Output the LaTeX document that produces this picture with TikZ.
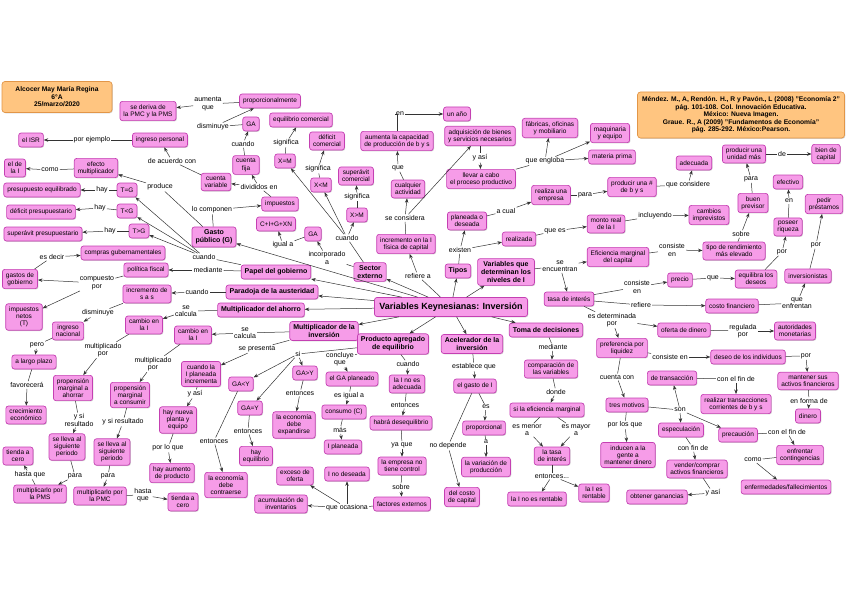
\documentclass[tikz,border=0pt]{standalone}
\usepackage{fontspec}
\setmainfont{Liberation Sans}
\usetikzlibrary{arrows.meta, shadows}

\definecolor{boxfill}{RGB}{246,156,232}
\definecolor{boxline}{RGB}{196,64,178}
\definecolor{reffill}{RGB}{255,197,128}
\definecolor{refline}{RGB}{226,150,72}

\begin{document}
\begin{tikzpicture}[
    x=1pt, y=-1pt,
    >={Stealth[length=4.5pt,width=3.5pt]},
    concept/.style={draw=boxline, fill=boxfill, rounded corners=2.5pt, line width=0.7pt, align=center,
        inner xsep=3.5pt, inner ysep=3pt, minimum height=14pt, font=\fontsize{6.5}{7.2}\selectfont,
        drop shadow={shadow xshift=0.8pt, shadow yshift=-0.8pt, opacity=0.35}},
    keyconcept/.style={concept, font=\bfseries\fontsize{7}{7.8}\selectfont},
    refbox/.style={draw=refline, fill=reffill, rounded corners=3pt, line width=0.7pt, align=center,
        inner sep=4pt, font=\bfseries\fontsize{6.7}{7.6}\selectfont,
        drop shadow={shadow xshift=0.8pt, shadow yshift=-0.8pt, opacity=0.35}},
    phrase/.style={align=center, inner sep=1pt, font=\fontsize{7}{7.5}\selectfont},
    conn/.style={draw=black!80, line width=0.5pt}
]
\useasboundingbox (0,0) rectangle (848,599);

\node[refbox, minimum width=110pt, minimum height=31pt] (hdr) at (57,97) {Alcocer May María Regina\\6°A\\25/marzo/2020};
\node[refbox, minimum width=207pt, minimum height=46pt] (bib) at (741,115) {Méndez. M., A, Rendón. H., R y Pavón., L (2008) "Economía 2"\\pág. 101-108. Col. Innovación Educativa.\\México: Nueva Imagen.\\Graue. R., A (2009) "Fundamentos de Economía"\\pág. 285-292. México:Pearson.};

\node[keyconcept, font=\bfseries\fontsize{9}{10}\selectfont, minimum width=153pt, minimum height=19pt] (varkey) at (451,307) {Variables Keynesianas: Inversión};
\node[keyconcept] (gasto) at (214,237) {Gasto\\público (G)};
\node[keyconcept] (papel) at (276,272) {Papel del gobierno};
\node[keyconcept] (paradoja) at (272,292) {Paradoja de la austeridad};
\node[keyconcept] (multah) at (261,310) {Multiplicador del ahorro};
\node[keyconcept] (multinv) at (324,331) {Multiplicador de la\\inversión};
\node[keyconcept] (prodag) at (393,344) {Producto agregado\\de equilibrio};
\node[keyconcept] (acel) at (472,344) {Acelerador de la\\inversión};
\node[keyconcept] (toma) at (546,330) {Toma de decisiones};
\node[keyconcept] (tipos) at (458,271) {Tipos};
\node[keyconcept] (varnivel) at (506,272) {Variables que\\determinan los\\niveles de I};
\node[keyconcept] (sector) at (370,272) {Sector\\externo};

\node[concept] (deriva) at (148,111) {se deriva de\\la PMC y la PMS};
\node[concept] (proporc) at (270,101) {proporcionalmente};
\node[concept] (ga1) at (251,124) {GA};
\node[concept] (cfija) at (246,165) {cuenta\\fija};
\node[concept] (cvar) at (216,182) {cuenta\\variable};
\node[concept] (ingper) at (160,140) {ingreso personal};
\node[concept] (isr) at (31,140) {el ISR};
\node[concept] (efmult) at (96,168) {efecto\\multiplicador};
\node[concept] (dela) at (15,168) {el de\\la I};
\node[concept] (presequil) at (42,190) {presupuesto equilibrado};
\node[concept] (teg) at (127,190) {T=G};
\node[concept] (deficitp) at (41,212) {déficit presupuestario};
\node[concept] (tlg) at (127,211) {T<G};
\node[concept] (superp) at (43,234) {superávit presupuestario};
\node[concept] (tgg) at (139,231) {T>G};
\node[concept] (compras) at (123,253) {compras gubernamentales};
\node[concept] (polfis) at (146,270) {política fiscal};
\node[concept] (gastgob) at (20,279) {gastos de\\gobierno};
\node[concept] (impnet) at (24,317) {impuestos\\netos\\(T)};
\node[concept] (incrs) at (147,294) {incremento de\\s a s};
\node[concept] (ingnac) at (68,331) {ingreso\\nacional};
\node[concept] (cambio1) at (144,325) {cambio en\\la I};
\node[concept] (cambio2) at (193,335) {cambio en\\la I};
\node[concept] (largo) at (34,362) {a largo plazo};
\node[concept] (crec) at (26,415) {crecimiento\\económico};
\node[concept] (pmga) at (73,388) {propensión\\marginal a\\ahorrar};
\node[concept] (pmgc) at (130,395) {propensión\\marginal\\a consumir};
\node[concept] (lleva1) at (67,447) {se lleva al\\siguiente\\periodo};
\node[concept] (lleva2) at (112,452) {se lleva al\\siguiente\\periodo};
\node[concept] (cero1) at (18,456) {tienda a\\cero};
\node[concept] (multpms) at (40,494) {multiplicarlo por\\la PMS};
\node[concept] (multpmc) at (100,496) {multiplicarlo por\\la PMC};
\node[concept] (cero2) at (183,502) {tienda a\\cero};
\node[concept] (nueva) at (178,420) {hay nueva\\planta y\\equipo};
\node[concept] (aumprod) at (172,473) {hay aumento\\de producto};
\node[concept] (iplan) at (201,374) {cuando la\\I planeada\\incrementa};
\node[concept] (galy) at (241,384) {GA<Y};
\node[concept] (gaeq) at (250,408) {GA=Y};
\node[concept] (equil) at (256,456) {hay\\equilibrio};
\node[concept] (contraer) at (226,485) {la economía\\debe\\contraerse};
\node[concept] (gamy) at (305,373) {GA>Y};
\node[concept] (expandir) at (294,425) {la economía\\debe\\expandirse};
\node[concept] (gaplan) at (352,379) {el GA planeado};
\node[concept] (consumo) at (344,412) {consumo (C)};
\node[concept] (iplaneada) at (343,447) {I planeada};
\node[concept] (ideseada) at (347,474) {I no deseada};
\node[concept] (exceso) at (295,476) {exceso de\\oferta};
\node[concept] (acum) at (281,504) {acumulación de\\inventarios};
\node[concept] (factores) at (402,504) {factores externos};
\node[concept] (empresa) at (402,466) {la empresa no\\tiene control};
\node[concept] (deseq) at (401,423) {habrá desequilibrio};
\node[concept] (noadec) at (407,384) {la I no es\\adecuada};
\node[concept] (gastoi) at (475,386) {el gasto de I};
\node[concept] (proporcional) at (484,428) {proporcional};
\node[concept] (variacion) at (486,467) {la variación de\\producción};
\node[concept] (costo) at (462,497) {del costo\\de capital};
\node[concept] (compar) at (551,369) {comparación de\\las variables};
\node[concept] (efmarg) at (547,410) {si la eficiencia marginal};
\node[concept] (tasa2) at (552,456) {la tasa\\de interés};
\node[concept] (norent) at (537,499) {la I no es rentable};
\node[concept] (rent) at (594,493) {la I es\\rentable};

\node[concept] (eqcom) at (301,120) {equilibrio comercial};
\node[concept] (xm) at (285,161) {X=M};
\node[concept] (defcom) at (327,141) {déficit\\comercial};
\node[concept] (xlm) at (321,185) {X<M};
\node[concept] (supcom) at (356,176) {superávit\\comercial};
\node[concept] (xgm) at (357,215) {X>M};
\node[concept] (impuestos) at (280,204) {impuestos};
\node[concept] (cigxn) at (276,224) {C+I+G+XN};
\node[concept] (ga2) at (313,234) {GA};
\node[concept] (aumcap) at (397,141) {aumenta la capacidad\\de producción de b y s};
\node[concept] (unano) at (457,114) {un año};
\node[concept] (cualq) at (408,189) {cualquier\\actividad};
\node[concept] (incfis) at (406,244) {incremento en la I\\física de capital};
\node[concept] (adquis) at (480,136) {adquisición de bienes\\y servicios necesarios};
\node[concept] (llevar) at (481,179) {llevar a cabo\\el proceso productivo};
\node[concept] (fabricas) at (550,128) {fábricas, oficinas\\y mobiliario};
\node[concept] (maqui) at (610,133) {maquinaria\\y equipo};
\node[concept] (materia) at (612,157) {materia prima};
\node[concept] (planeada) at (467,221) {planeada o\\deseada};
\node[concept] (realizada) at (519,239) {realizada};
\node[concept] (montoreal) at (606,224) {monto real\\de la I};
\node[concept] (realiza) at (551,195) {realiza una\\empresa};
\node[concept] (producir) at (632,187) {producir una \#\\de b y s};
\node[concept] (adecuada) at (694,163) {adecuada};
\node[concept] (unidad) at (744,154) {producir una\\unidad más};
\node[concept] (bienk) at (826,154) {bien de\\capital};
\node[concept] (previsor) at (753,203) {buen\\previsor};
\node[concept] (efectivo) at (788,182) {efectivo};
\node[concept] (riqueza) at (788,227) {poseer\\riqueza};
\node[concept] (prestamos) at (824,204) {pedir\\préstamos};
\node[concept] (imprev) at (709,215) {cambios\\imprevistos};
\node[concept] (rendim) at (734,251) {tipo de rendimiento\\más elevado};
\node[concept] (emc) at (618,257) {Eficiencia marginal\\del capital};
\node[concept] (tasa) at (569,299) {tasa de interés};
\node[concept] (precio) at (680,280) {precio};
\node[concept] (deseos) at (756,279) {equilibra los\\deseos};
\node[concept] (inversion) at (808,276) {inversionistas};
\node[concept] (costofin) at (732,306) {costo financiero};
\node[concept] (oferta) at (684,330) {oferta de dinero};
\node[concept] (autor) at (795,331) {autoridades\\monetarias};
\node[concept] (liquidez) at (622,348) {preferencia por\\liquidez};
\node[concept] (deseo) at (748,357) {deseo de los individuos};
\node[concept] (mantener) at (808,381) {mantener sus\\activos financieros};
\node[concept] (dinero) at (808,416) {dinero};
\node[concept] (transac) at (672,378) {de transacción};
\node[concept] (realizar) at (736,404) {realizar transacciones\\corrientes de b y s};
\node[concept] (motivos) at (627,405) {tres motivos};
\node[concept] (inducen) at (628,455) {inducen a la\\gente a\\mantener dinero};
\node[concept] (especul) at (681,430) {especulación};
\node[concept] (precau) at (738,435) {precaución};
\node[concept] (conting) at (800,455) {enfrentar\\contingencias};
\node[concept] (enferm) at (786,487) {enfermedades/fallecimientos};
\node[concept] (vender) at (697,469) {vender/comprar\\activos financieros};
\node[concept] (ganancias) at (657,497) {obtener ganancias};

\node[phrase] (l_aumque) at (208,104) {aumenta\\que};
\node[phrase] (l_dism) at (213,127) {disminuye};
\node[phrase] (l_cuando1) at (243,144) {cuando};
\node[phrase] (l_divid) at (259,187) {divididos en};
\node[phrase] (l_compon) at (212,210) {lo componen};
\node[phrase] (l_acuerdo) at (172,161) {de acuerdo con};
\node[phrase] (l_ejemplo) at (92,140) {por ejemplo};
\node[phrase] (l_como1) at (50,170) {como};
\node[phrase] (l_produce) at (160,187) {produce};
\node[phrase] (l_hay1) at (102,190) {hay};
\node[phrase] (l_hay2) at (100,208) {hay};
\node[phrase] (l_hay3) at (110,231) {hay};
\node[phrase] (l_cuando2) at (204,257) {cuando};
\node[phrase] (l_mediante1) at (208,270) {mediante};
\node[phrase] (l_cuando3) at (197,292) {cuando};
\node[phrase] (l_esdecir) at (52,257) {es decir};
\node[phrase] (l_compuesto) at (97,283) {compuesto\\por};
\node[phrase] (l_dismin2) at (98,313) {disminuye};
\node[phrase] (l_secalc1) at (186,311) {se\\calcula};
\node[phrase] (l_secalc2) at (245,333) {se\\calcula};
\node[phrase] (l_pero) at (37,345) {pero};
\node[phrase] (l_favor) at (27,385) {favorecerá};
\node[phrase] (l_multpor1) at (103,350) {multiplicado\\por};
\node[phrase] (l_multpor2) at (153,364) {multiplicado\\por};
\node[phrase] (l_ysi1) at (79,420) {y si\\resultado};
\node[phrase] (l_ysi2) at (123,422) {y si resultado};
\node[phrase] (l_hasta1) at (30,475) {hasta que};
\node[phrase] (l_para1) at (75,476) {para};
\node[phrase] (l_para2) at (108,476) {para};
\node[phrase] (l_hasta2) at (143,495) {hasta\\que};
\node[phrase] (l_yasi1) at (195,394) {y así};
\node[phrase] (l_porloque1) at (168,448) {por lo que};
\node[phrase] (l_entonces1) at (214,441) {entonces};
\node[phrase] (l_entonces2) at (248,431) {entonces};
\node[phrase] (l_entonces3) at (300,393) {entonces};
\node[phrase] (l_sepres) at (257,349) {se presenta};
\node[phrase] (l_si) at (298,354) {si};
\node[phrase] (l_concl) at (340,359) {concluye\\que};
\node[phrase] (l_esigual) at (349,396) {es igual a};
\node[phrase] (l_mas) at (340,430) {más};
\node[phrase] (l_ocasiona) at (347,508) {que ocasiona};
\node[phrase] (l_sobre1) at (401,487) {sobre};
\node[phrase] (l_yaque) at (402,445) {ya que};
\node[phrase] (l_entonces4) at (405,405) {entonces};
\node[phrase] (l_cuando4) at (408,364) {cuando};
\node[phrase] (l_establece) at (474,367) {establece que};
\node[phrase] (l_es) at (486,407) {es};
\node[phrase] (l_a) at (486,442) {a};
\node[phrase] (l_nodep) at (448,446) {no depende};
\node[phrase] (l_mediante2) at (553,347) {mediante};
\node[phrase] (l_donde) at (556,392) {donde};
\node[phrase] (l_menor) at (527,430) {es menor\\a};
\node[phrase] (l_mayor) at (576,430) {es mayor\\a};
\node[phrase] (l_entonces5) at (552,476) {entonces...};
\node[phrase] (l_signif1) at (286,143) {significa};
\node[phrase] (l_signif2) at (318,169) {significa};
\node[phrase] (l_signif3) at (357,197) {significa};
\node[phrase] (l_cuando5) at (347,238) {cuando};
\node[phrase] (l_igual) at (283,245) {igual a};
\node[phrase] (l_incorp) at (327,258) {incorporado\\a};
\node[phrase] (l_en1) at (400,114) {en};
\node[phrase] (l_que2) at (398,168) {que};
\node[phrase] (l_considera) at (405,218) {se considera};
\node[phrase] (l_refiere) at (418,276) {refiere a};
\node[phrase] (l_yasi2) at (480,158) {y así};
\node[phrase] (l_engloba) at (545,161) {que engloba};
\node[phrase] (l_existen) at (460,250) {existen};
\node[phrase] (l_acual) at (506,211) {a cual};
\node[phrase] (l_quees) at (555,231) {que es};
\node[phrase] (l_para3) at (585,195) {para};
\node[phrase] (l_considere) at (688,185) {que considere};
\node[phrase] (l_para4) at (751,179) {para};
\node[phrase] (l_de) at (782,154) {de};
\node[phrase] (l_en2) at (789,201) {en};
\node[phrase] (l_incluyendo) at (655,216) {incluyendo};
\node[phrase] (l_sobre2) at (741,234) {sobre};
\node[phrase] (l_por1) at (782,252) {por};
\node[phrase] (l_por2) at (816,245) {por};
\node[phrase] (l_consiste1) at (672,250) {consiste\\en};
\node[phrase] (l_seencuentran) at (560,266) {se\\encuentran};
\node[phrase] (l_consiste2) at (637,287) {consiste\\en};
\node[phrase] (l_que3) at (713,278) {que};
\node[phrase] (l_enfrentan) at (797,303) {que\\enfrentan};
\node[phrase] (l_refiere2) at (641,305) {refiere};
\node[phrase] (l_determinada) at (612,320) {es determinada\\por};
\node[phrase] (l_regulada) at (743,331) {regulada\\por};
\node[phrase] (l_consiste3) at (670,357) {consiste en};
\node[phrase] (l_por3) at (806,356) {por};
\node[phrase] (l_enforma) at (809,401) {en forma de};
\node[phrase] (l_confin1) at (736,379) {con el fin de};
\node[phrase] (l_cuentacon) at (617,377) {cuenta con};
\node[phrase] (l_son) at (680,410) {son};
\node[phrase] (l_porlosque) at (625,425) {por los que};
\node[phrase] (l_confin2) at (787,432) {con el fin de};
\node[phrase] (l_como2) at (753,460) {como};
\node[phrase] (l_confin3) at (693,448) {con fin de};
\node[phrase] (l_yasi3) at (713,493) {y así};

\foreach \t in {gasto,papel,paradoja,multah,multinv,prodag,acel,toma,tipos,varnivel,sector}
    \draw[conn,->] (varkey) -- (\t);
\draw[conn] (proporc) -- (l_aumque);
\draw[conn,->] (l_aumque) -- (deriva);
\draw[conn] (ga1) -- (l_dism);
\draw[conn,->] (l_dism) -- (proporc);
\draw[conn] (cfija) -- (l_cuando1);
\draw[conn,->] (l_cuando1) -- (ga1);
\draw[conn] (cvar) -- (l_acuerdo);
\draw[conn,->] (l_acuerdo) -- (ingper);
\draw[conn] (ingper) -- (l_ejemplo);
\draw[conn,->] (l_ejemplo) -- (isr);
\draw[conn] (impuestos) -- (l_divid);
\draw[conn,->] (l_divid) -- (cfija);
\draw[conn,->] (l_divid) -- (cvar);
\draw[conn] (gasto) -- (l_compon);
\draw[conn,->] (l_compon) -- (impuestos);
\draw[conn] (gasto) -- (l_produce);
\draw[conn,->] (l_produce) -- (efmult);
\draw[conn] (efmult) -- (l_como1);
\draw[conn,->] (l_como1) -- (dela);
\draw[conn] (teg) -- (l_hay1);
\draw[conn,->] (l_hay1) -- (presequil);
\draw[conn] (tlg) -- (l_hay2);
\draw[conn,->] (l_hay2) -- (deficitp);
\draw[conn] (tgg) -- (l_hay3);
\draw[conn,->] (l_hay3) -- (superp);
\draw[conn] (papel) -- (l_cuando2);
\foreach \t in {teg,tlg,tgg}
    \draw[conn,->] (l_cuando2) -- (\t);
\draw[conn] (papel) -- (l_mediante1);
\draw[conn,->] (l_mediante1) -- (polfis);
\draw[conn] (paradoja) -- (l_cuando3);
\draw[conn,->] (l_cuando3) -- (incrs);
\draw[conn] (polfis) -- (l_compuesto);
\draw[conn,->] (l_compuesto) -- (gastgob);
\draw[conn,->] (l_compuesto) -- (impnet);
\draw[conn] (gastgob) -- (l_esdecir);
\draw[conn,->] (l_esdecir) -- (compras);
\draw[conn] (incrs) -- (l_dismin2);
\draw[conn,->] (l_dismin2) -- (ingnac);
\draw[conn] (ingnac) -- (l_pero);
\draw[conn,->] (l_pero) -- (largo);
\draw[conn] (largo) -- (l_favor);
\draw[conn,->] (l_favor) -- (crec);
\draw[conn] (multah) -- (l_secalc1);
\draw[conn,->] (l_secalc1) -- (cambio1);
\draw[conn] (multinv) -- (l_secalc2);
\draw[conn,->] (l_secalc2) -- (cambio2);
\draw[conn] (cambio1) -- (l_multpor1);
\draw[conn,->] (l_multpor1) -- (pmga);
\draw[conn] (cambio2) -- (l_multpor2);
\draw[conn,->] (l_multpor2) -- (pmgc);
\draw[conn] (pmga) -- (l_ysi1);
\draw[conn,->] (l_ysi1) -- (lleva1);
\draw[conn] (pmgc) -- (l_ysi2);
\draw[conn,->] (l_ysi2) -- (lleva2);
\draw[conn] (lleva1) -- (l_para1);
\draw[conn,->] (l_para1) -- (multpms);
\draw[conn] (lleva2) -- (l_para2);
\draw[conn,->] (l_para2) -- (multpmc);
\draw[conn] (multpms) -- (l_hasta1);
\draw[conn,->] (l_hasta1) -- (cero1);
\draw[conn] (multpmc) -- (l_hasta2);
\draw[conn,->] (l_hasta2) -- (cero2);
\draw[conn] (multinv) -- (l_sepres);
\draw[conn,->] (l_sepres) -- (iplan);
\draw[conn] (iplan) -- (l_yasi1);
\draw[conn,->] (l_yasi1) -- (nueva);
\draw[conn] (nueva) -- (l_porloque1);
\draw[conn,->] (l_porloque1) -- (aumprod);
\draw[conn] (prodag) -- (l_si);
\foreach \t in {galy,gaeq,gamy}
    \draw[conn,->] (l_si) -- (\t);
\draw[conn] (galy) -- (l_entonces1);
\draw[conn,->] (l_entonces1) -- (contraer);
\draw[conn] (gaeq) -- (l_entonces2);
\draw[conn,->] (l_entonces2) -- (equil);
\draw[conn] (gamy) -- (l_entonces3);
\draw[conn,->] (l_entonces3) -- (expandir);
\draw[conn] (prodag) -- (l_concl);
\draw[conn,->] (l_concl) -- (gaplan);
\draw[conn] (gaplan) -- (l_esigual);
\draw[conn,->] (l_esigual) -- (consumo);
\draw[conn] (consumo) -- (l_mas);
\draw[conn,->] (l_mas) -- (iplaneada);
\draw[conn] (prodag) -- (l_cuando4);
\draw[conn,->] (l_cuando4) -- (noadec);
\draw[conn] (noadec) -- (l_entonces4);
\draw[conn,->] (l_entonces4) -- (deseq);
\draw[conn] (deseq) -- (l_yaque);
\draw[conn,->] (l_yaque) -- (empresa);
\draw[conn] (empresa) -- (l_sobre1);
\draw[conn,->] (l_sobre1) -- (factores);
\draw[conn] (factores) -- (l_ocasiona);
\foreach \t in {acum,exceso,ideseada}
    \draw[conn,->] (l_ocasiona) -- (\t);
\draw[conn] (acel) -- (l_establece);
\draw[conn,->] (l_establece) -- (gastoi);
\draw[conn] (gastoi) -- (l_es);
\draw[conn,->] (l_es) -- (proporcional);
\draw[conn] (proporcional) -- (l_a);
\draw[conn,->] (l_a) -- (variacion);
\draw[conn] (gastoi) -- (l_nodep);
\draw[conn,->] (l_nodep) -- (costo);
\draw[conn] (toma) -- (l_mediante2);
\draw[conn,->] (l_mediante2) -- (compar);
\draw[conn] (compar) -- (l_donde);
\draw[conn,->] (l_donde) -- (efmarg);
\draw[conn] (efmarg) -- (l_menor);
\draw[conn,->] (l_menor) -- (tasa2);
\draw[conn] (efmarg) -- (l_mayor);
\draw[conn,->] (l_mayor) -- (tasa2);
\draw[conn] (tasa2) -- (l_entonces5);
\draw[conn,->] (l_entonces5) -- (norent);
\draw[conn,->] (l_entonces5) -- (rent);
\draw[conn] (varkey) -- (l_refiere);
\draw[conn,->] (l_refiere) -- (incfis);
\draw[conn] (incfis) -- (l_considera);
\draw[conn,->] (l_considera) -- (cualq);
\draw[conn,->] (l_considera) -- (adquis);
\draw[conn] (cualq) -- (l_que2);
\draw[conn,->] (l_que2) -- (aumcap);
\draw[conn] (aumcap) |- (l_en1);
\draw[conn,->] (l_en1) -- (unano);
\draw[conn] (adquis) -- (l_yasi2);
\draw[conn,->] (l_yasi2) -- (llevar);
\draw[conn] (llevar) -- (l_engloba);
\foreach \t in {fabricas,maqui,materia}
    \draw[conn,->] (l_engloba) -- (\t);
\draw[conn] (tipos) -- (l_existen);
\draw[conn,->] (l_existen) -- (planeada);
\draw[conn,->] (l_existen) -- (realizada);
\draw[conn] (planeada) -- (l_acual);
\draw[conn,->] (l_acual) -- (realiza);
\draw[conn] (realiza) -- (l_para3);
\draw[conn,->] (l_para3) -- (producir);
\draw[conn] (producir) -- (l_considere);
\draw[conn,->] (l_considere) -- (adecuada);
\draw[conn] (realizada) -- (l_quees);
\draw[conn,->] (l_quees) -- (montoreal);
\draw[conn] (montoreal) -- (l_incluyendo);
\draw[conn,->] (l_incluyendo) -- (imprev);
\draw[conn] (varnivel) -- (l_seencuentran);
\draw[conn,->] (l_seencuentran) -- (emc);
\draw[conn,->] (l_seencuentran) -- (tasa);
\draw[conn] (emc) -- (l_consiste1);
\draw[conn,->] (l_consiste1) -- (rendim);
\draw[conn] (rendim) -- (l_sobre2);
\draw[conn,->] (l_sobre2) -- (previsor);
\draw[conn] (previsor) -- (l_para4);
\draw[conn,->] (l_para4) -- (unidad);
\draw[conn] (unidad) -- (l_de);
\draw[conn,->] (l_de) -- (bienk);
\draw[conn] (riqueza) -- (l_en2);
\draw[conn,->] (l_en2) -- (efectivo);
\draw[conn] (deseos) -- (l_por1);
\draw[conn,->] (l_por1) -- (riqueza);
\draw[conn] (inversion) -- (l_por2);
\draw[conn,->] (l_por2) -- (prestamos);
\draw[conn] (tasa) -- (l_consiste2);
\draw[conn,->] (l_consiste2) -- (precio);
\draw[conn] (precio) -- (l_que3);
\draw[conn,->] (l_que3) -- (deseos);
\draw[conn] (tasa) -- (l_refiere2);
\draw[conn,->] (l_refiere2) -- (costofin);
\draw[conn] (costofin) -- (l_enfrentan);
\draw[conn,->] (l_enfrentan) -- (inversion);
\draw[conn] (tasa) -- (l_determinada);
\draw[conn,->] (l_determinada) -- (oferta);
\draw[conn,->] (l_determinada) -- (liquidez);
\draw[conn] (oferta) -- (l_regulada);
\draw[conn,->] (l_regulada) -- (autor);
\draw[conn] (liquidez) -- (l_consiste3);
\draw[conn,->] (l_consiste3) -- (deseo);
\draw[conn] (deseo) -- (l_por3);
\draw[conn,->] (l_por3) -- (mantener);
\draw[conn] (mantener) -- (l_enforma);
\draw[conn,->] (l_enforma) -- (dinero);
\draw[conn] (liquidez) -- (l_cuentacon);
\draw[conn,->] (l_cuentacon) -- (motivos);
\draw[conn] (motivos) -- (l_son);
\foreach \t in {transac,especul,precau}
    \draw[conn,->] (l_son) -- (\t);
\draw[conn] (transac) -- (l_confin1);
\draw[conn,->] (l_confin1) -- (realizar);
\draw[conn] (motivos) -- (l_porlosque);
\draw[conn,->] (l_porlosque) -- (inducen);
\draw[conn] (precau) -- (l_confin2);
\draw[conn,->] (l_confin2) -- (conting);
\draw[conn] (conting) -- (l_como2);
\draw[conn,->] (l_como2) -- (enferm);
\draw[conn] (especul) -- (l_confin3);
\draw[conn,->] (l_confin3) -- (vender);
\draw[conn] (vender) -- (l_yasi3);
\draw[conn,->] (l_yasi3) -- (ganancias);
\draw[conn] (sector) -- (l_cuando5);
\foreach \t in {xm,xlm,xgm}
    \draw[conn,->] (l_cuando5) -- (\t);
\draw[conn] (xm) -- (l_signif1);
\draw[conn,->] (l_signif1) -- (eqcom);
\draw[conn] (xlm) -- (l_signif2);
\draw[conn,->] (l_signif2) -- (defcom);
\draw[conn] (xgm) -- (l_signif3);
\draw[conn,->] (l_signif3) -- (supcom);
\draw[conn] (sector) -- (l_incorp);
\draw[conn,->] (l_incorp) -- (ga2);
\draw[conn] (ga2) -- (l_igual);
\draw[conn,->] (l_igual) -- (cigxn);
\end{tikzpicture}
\end{document}
